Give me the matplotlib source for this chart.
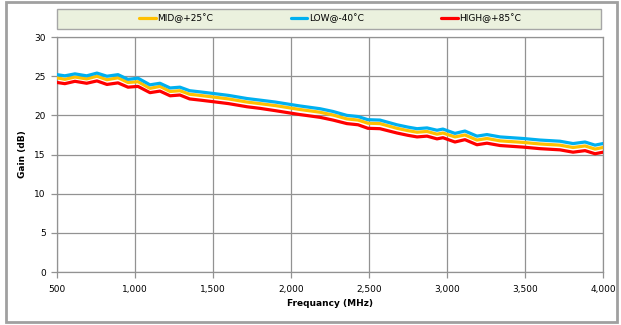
import matplotlib.pyplot as plt
from matplotlib.patches import Rectangle
from matplotlib.ticker import FuncFormatter

# Frequency points (MHz)
freq = [500, 550, 615, 690, 756, 820, 891, 955, 1019, 1096, 1160, 1225, 1288,
        1350, 1417, 1500, 1600, 1718, 1800, 1900, 1994, 2058, 2186, 2269, 2358,
        2430, 2493, 2570, 2679, 2750, 2808, 2872, 2936, 2974, 3051, 3115, 3192,
        3256, 3340, 3487, 3596, 3724, 3808, 3885, 3949, 4000]

# Gain (dB) per temperature
gain_low = [25.2, 25.05, 25.3, 25.05, 25.4, 25.0, 25.2, 24.6, 24.75, 23.9, 24.1,
            23.5, 23.6, 23.15, 23.0, 22.8, 22.55, 22.15, 21.95, 21.7, 21.4, 21.2,
            20.85, 20.5, 20.0, 19.85, 19.45, 19.4, 18.8, 18.5, 18.3, 18.4, 18.1,
            18.25, 17.7, 18.0, 17.35, 17.55, 17.25, 17.05, 16.85, 16.7, 16.4,
            16.6, 16.2, 16.4]
gain_mid = [24.8, 24.6, 24.9, 24.65, 25.0, 24.55, 24.8, 24.2, 24.3, 23.45, 23.7,
            23.05, 23.15, 22.7, 22.55, 22.35, 22.1, 21.7, 21.5, 21.25, 20.95,
            20.75, 20.4, 20.05, 19.55, 19.4, 19.0, 18.95, 18.35, 18.05, 17.85,
            17.95, 17.6, 17.75, 17.25, 17.5, 16.85, 17.05, 16.75, 16.55, 16.35,
            16.2, 15.9, 16.1, 15.7, 15.9]
gain_high = [24.2, 24.05, 24.35, 24.1, 24.4, 23.95, 24.15, 23.6, 23.7, 22.9, 23.1,
             22.5, 22.6, 22.1, 21.95, 21.75, 21.5, 21.1, 20.9, 20.6, 20.3, 20.1,
             19.75, 19.4, 18.95, 18.8, 18.35, 18.3, 17.75, 17.45, 17.25, 17.35,
             17.0, 17.15, 16.6, 16.9, 16.25, 16.45, 16.15, 15.95, 15.75, 15.6,
             15.3, 15.5, 15.1, 15.3]

series = [("MID@+25˚C", gain_mid, "#FFC000"),
          ("LOW@-40˚C", gain_low, "#00B0F0"),
          ("HIGH@+85˚C", gain_high, "#FF0000")]

grid_color = "#929292"

fig = plt.figure(figsize=(6.21, 3.25), dpi=100)
ax = fig.add_axes([0.0918, 0.163, 0.8792, 0.723])

for label, vals, color in series:
    ax.plot(freq, vals, color=color, linewidth=2.3, label=label,
            solid_capstyle='round', zorder=3)

ax.set_xlim(500, 4000)
ax.set_ylim(0, 30)
ax.set_xticks(range(500, 4001, 500))
ax.set_yticks(range(0, 31, 5))
ax.xaxis.set_major_formatter(FuncFormatter(lambda v, p: f"{int(v):,}"))
ax.grid(True, color=grid_color, linewidth=0.9)
ax.set_axisbelow(True)
for s in ax.spines.values():
    s.set_color(grid_color)
    s.set_linewidth(0.9)
ax.tick_params(axis='both', colors=grid_color, length=4, width=0.9,
               labelsize=6.5, labelcolor='#000000')
ax.tick_params(axis='y', pad=4)
ax.tick_params(axis='x', pad=5)

ax.set_xlabel("Frequancy (MHz)", fontsize=6.5, fontweight='bold', labelpad=4)
ax.set_ylabel("Gain (dB)", fontsize=6.5, fontweight='bold', labelpad=5)

# legend box across the top
fig.patches.append(Rectangle((57 / 621, 1 - 29 / 325), 544 / 621, 20 / 325,
                             transform=fig.transFigure, facecolor="#EBF1DE",
                             edgecolor="#A6A6A6", linewidth=1.0))
fig.legend(loc='center', bbox_to_anchor=(0.532, 0.943), ncol=3, frameon=False,
           fontsize=6.5, handlelength=1.8, handletextpad=0.2,
           columnspacing=8.6)

# outer chart frame
fig.patches.append(Rectangle((6 / 621, 3 / 325), 611 / 621, 320 / 325,
                             transform=fig.transFigure, facecolor='none',
                             edgecolor="#A0A0A0", linewidth=2.0))

fig.savefig("out.png", dpi=100)
